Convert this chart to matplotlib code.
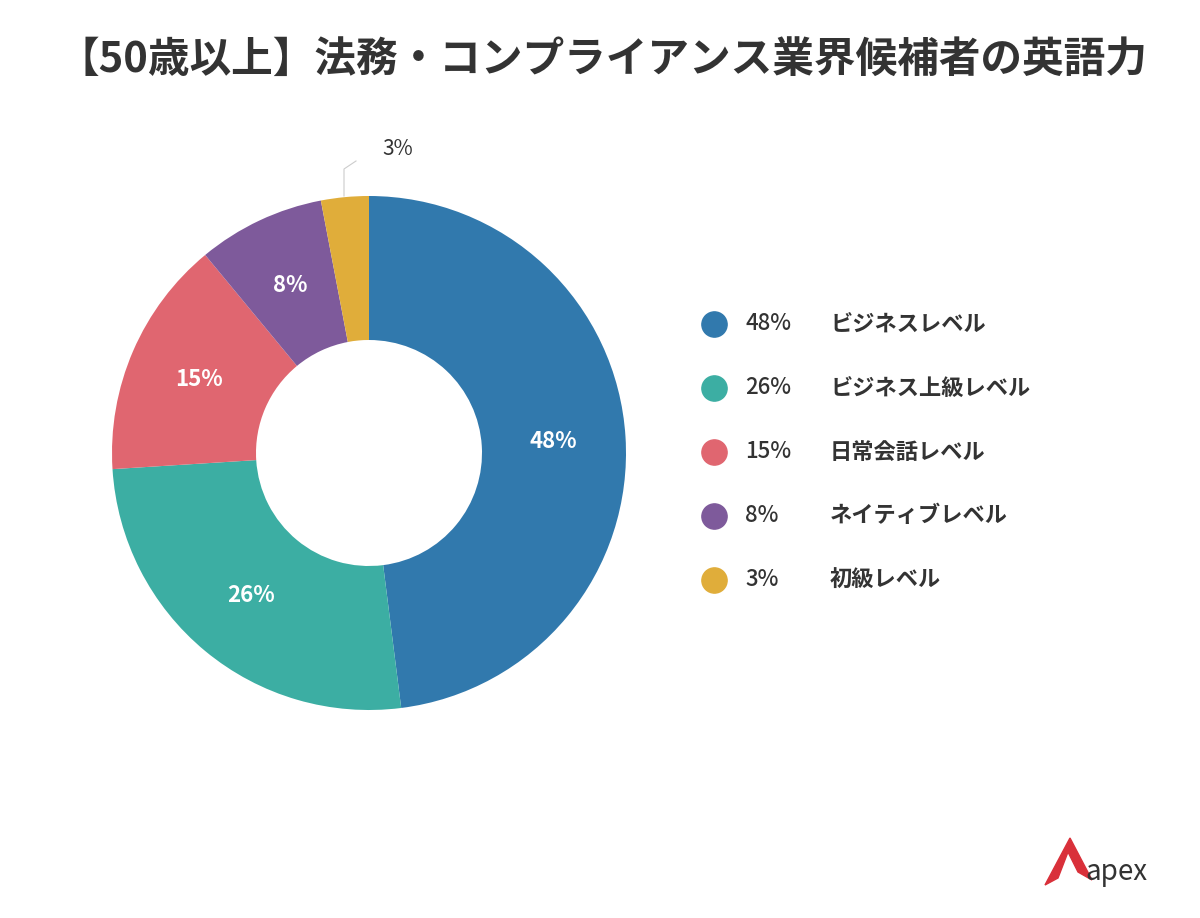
import matplotlib
matplotlib.use("Agg")
import matplotlib.pyplot as plt
from matplotlib.patches import Polygon
import numpy as np

plt.rcParams["font.family"] = "Noto Sans CJK JP"

title = "【50歳以上】法務・コンプライアンス業界候補者の英語力"
labels = ["ビジネスレベル", "ビジネス上級レベル", "日常会話レベル", "ネイティブレベル", "初級レベル"]
values = [48, 26, 15, 8, 3]
colors = ["#3179ad", "#3caea3", "#e06670", "#7e5a9b", "#e0ad3a"]
text_color = "#333333"

W, H = 1200, 918
fig = plt.figure(figsize=(12, 9.18), dpi=100)
fig.patch.set_facecolor("white")

# full-figure pixel axes for text/legend
bg = fig.add_axes([0, 0, 1, 1])
bg.set_xlim(0, W)
bg.set_ylim(H, 0)
bg.axis("off")

bg.text(602, 60, title, ha="center", va="center", fontsize=30, fontweight="bold", color=text_color)

# donut (units: outer radius = 1)
cx, cy, R = 369, 453, 257
inner = 113 / R
ax = fig.add_axes([(cx - 300) / W, (H - cy - 300) / H, 600 / W, 600 / H])
wedges, _ = ax.pie(values, colors=colors, startangle=90, counterclock=False, radius=1,
                   wedgeprops=dict(width=1 - inner, linewidth=0))
ax.set_xlim(-300 / R, 300 / R)
ax.set_ylim(-300 / R, 300 / R)
ax.axis("off")

for w, v in zip(wedges, values):
    ang = np.deg2rad((w.theta1 + w.theta2) / 2)
    if v >= 5:
        r = 0.72
        ax.text(r * np.cos(ang), r * np.sin(ang), f"{v}%", ha="center", va="center",
                fontsize=16, fontweight="bold", color="white")
    else:
        x0, y0 = -25 / R, 1.0
        ax.plot([x0, x0, x0 + 12 / R], [y0, y0 + 27 / R, y0 + 35 / R], color="#cccccc", lw=0.8)
        ax.text(x0 + 38 / R, y0 + 47 / R, f"{v}%", ha="left", va="center", fontsize=15, color=text_color)

# legend
for i, (lab, v, c) in enumerate(zip(labels, values, colors)):
    y = 324 + 64 * i
    bg.scatter([714], [y], s=330, color=c)
    bg.text(745, y, f"{v}%", ha="left", va="center", fontsize=16, fontweight="medium", color=text_color)
    bg.text(830, y, lab, ha="left", va="center", fontsize=16, fontweight="bold", color=text_color)

# logo
bg.add_patch(Polygon([[1045, 885], [1070, 838], [1092, 880], [1078, 872], [1068, 852], [1058, 878]],
                     closed=True, color="#d9303a"))
bg.text(1085, 872, "apex", ha="left", va="center", fontsize=20, color=text_color)

fig.savefig("out.png", dpi=100)
